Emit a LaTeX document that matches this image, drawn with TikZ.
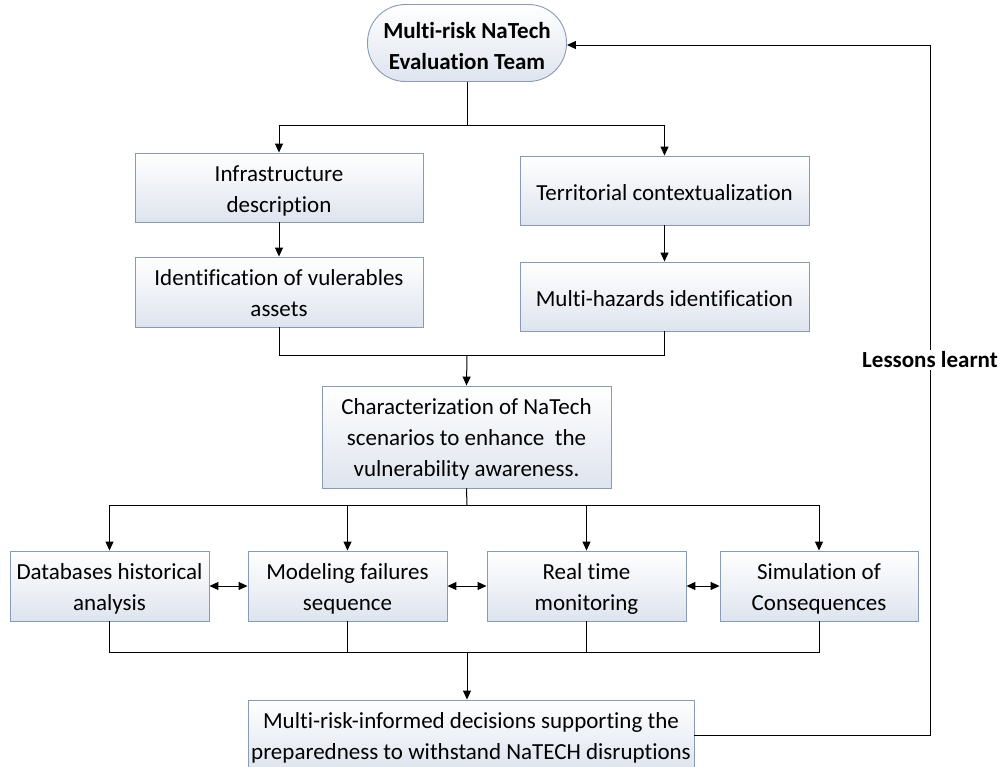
\documentclass[tikz,border=0pt]{standalone}
\usepackage{fontspec}
\setmainfont[Ligatures=NoCommon]{Carlito}
\usetikzlibrary{arrows.meta}
\definecolor{boxline}{RGB}{135,155,185}
\definecolor{boxshade}{RGB}{222,228,238}
\newcommand\btxt[2][-3pt]{\raisebox{#1}[\height][\depth]{\begin{tabular}{@{}c@{}}#2\end{tabular}}}
\tikzset{
  box/.style={draw=boxline, line width=0.9pt, top color=white, bottom color=boxshade,
    inner sep=0pt, font=\fontsize{23}{31}\selectfont},
  oval/.style={box, rounded corners=38pt, font=\fontsize{23}{31}\selectfont\bfseries},
  conn/.style={line width=1pt, black},
  arr/.style={conn, -{Triangle[length=9pt,width=8pt]}},
  darr/.style={conn, {Triangle[length=9pt,width=8pt]}-{Triangle[length=9pt,width=8pt]}},
}
\begin{document}
\begin{tikzpicture}[x=1pt,y=-1pt]
\useasboundingbox (0,0) rectangle (1001,766);
\fill[white] (0,0) rectangle (1001,766);

\node[oval, minimum width=199pt, minimum height=77pt] (team) at (467,43) {\btxt[-5pt]{Multi-risk NaTech\\Evaluation Team}};

\node[box, minimum width=288pt, minimum height=69pt] (infra) at (279,187.5) {\btxt{Infrastructure\\description}};
\node[box, minimum width=289pt, minimum height=69pt] (terr) at (664.5,190.5) {\btxt[-4pt]{Territorial contextualization}};
\node[box, minimum width=288pt, minimum height=70pt] (ident) at (279,292) {\btxt{Identification of vulerables\\assets}};
\node[box, minimum width=289pt, minimum height=69pt] (haz) at (664.5,296.5) {\btxt[-4pt]{Multi-hazards identification}};

\node[box, minimum width=289pt, minimum height=102pt] (char) at (466.5,437) {\btxt[-2pt]{Characterization of NaTech\\scenarios to enhance\ \ the\\vulnerability awareness.}};

\node[box, minimum width=199pt, minimum height=70pt] (db) at (109.5,586) {\btxt{Databases historical\\analysis}};
\node[box, minimum width=199pt, minimum height=70pt] (model) at (347.5,586) {\btxt{Modeling failures\\sequence}};
\node[box, minimum width=199pt, minimum height=70pt] (rt) at (586.5,586) {\btxt{Real time\\monitoring}};
\node[box, minimum width=198pt, minimum height=70pt] (sim) at (819,586) {\btxt{Simulation of\\Consequences}};

\node[box, minimum width=446pt, minimum height=70pt] (dec) at (471,735) {\btxt{Multi-risk-informed decisions supporting the\\preparedness to withstand NaTECH disruptions}};

% top split
\coordinate (s1) at (467,125);
\draw[conn] (team.south) -- (s1);
\draw[arr] (s1) -| (infra.north);
\draw[arr] (s1) -| (terr.north);
\draw[arr] (infra) -- (ident);
\draw[arr] (terr) -- (haz);

% merge to characterization
\coordinate (m1) at (467,355);
\draw[conn] (ident.south) |- (m1);
\draw[conn] (haz.south) |- (m1);
\draw[arr] (m1) -- (char.north);

% split to four
\coordinate (s2) at (467,505);
\draw[conn] (char.south) -- (s2);
\draw[arr] (s2) -| (db.north);
\draw[arr] (s2) -| (model.north);
\draw[arr] (s2) -| (rt.north);
\draw[arr] (s2) -| (sim.north);

\draw[darr] (db.east) -- (model.west);
\draw[darr] (model.east) -- (rt.west);
\draw[darr] (rt.east) -- (sim.west);

% merge to decision
\coordinate (m2) at (467,652);
\draw[conn] (db.south) |- (m2);
\draw[conn] (model.south) |- (m2);
\draw[conn] (rt.south) |- (m2);
\draw[conn] (sim.south) |- (m2);
\draw[arr] (m2) -- (m2 |- dec.north);

% feedback loop
\coordinate (f1) at (930,735);
\coordinate (f2) at (930,45);
\draw[arr] (dec.east |- f1) -- (f1) -- (f2) -- (team.east |- f2);
\node[fill=white, inner sep=2pt, font=\fontsize{23}{27}\selectfont\bfseries] (lessons) at (930,360) {Lessons learnt};
\end{tikzpicture}
\end{document}
